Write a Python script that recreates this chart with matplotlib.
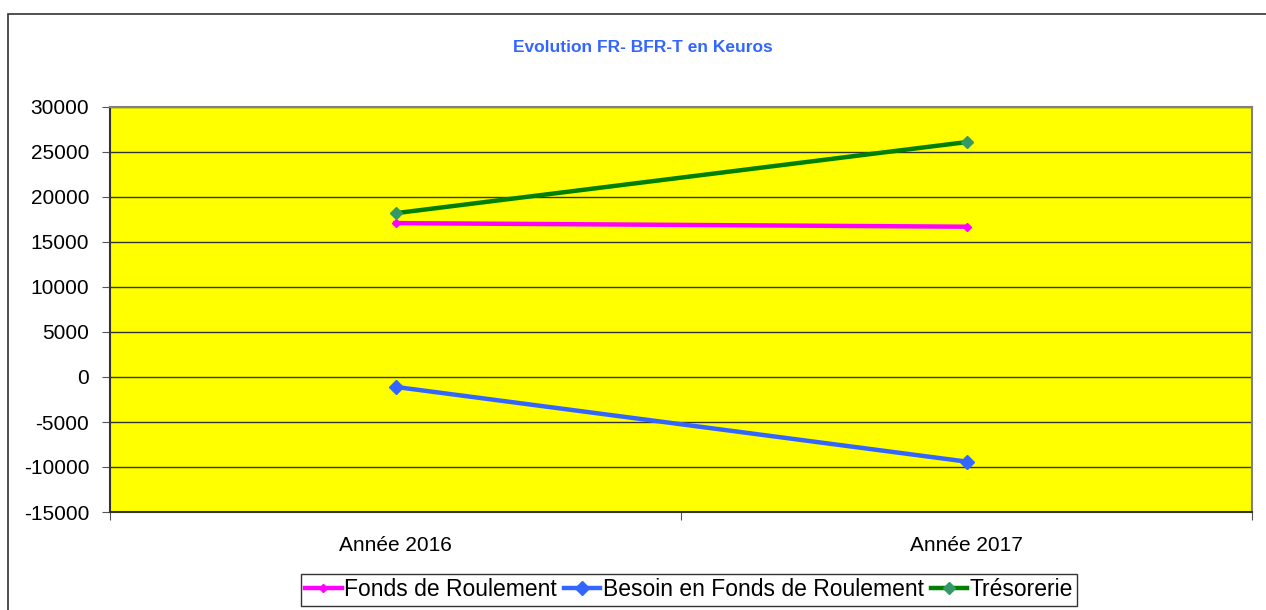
import matplotlib.pyplot as plt
from matplotlib.patches import Rectangle

W, H = 1266, 610

categories = ["Année 2016", "Année 2017"]
fonds_roulement = [17100, 16700]
besoin_fr = [-1100, -9400]
tresorerie = [18200, 26100]
yticks = list(range(-15000, 30001, 5000))

fig = plt.figure(figsize=(W / 100, H / 100), dpi=100)
fig.patch.set_facecolor("white")

# cadre extérieur du graphique
fig.patches.append(Rectangle((8 / W, -0.1), 1.2, 1 - 14 / H + 0.1,
                             transform=fig.transFigure, fill=False,
                             edgecolor="#333333", linewidth=1.2))

ax = fig.add_axes([110 / W, 1 - 512 / H, (1252 - 110) / W, (512 - 107) / H])
ax.set_facecolor("#FFFF00")

x = list(range(len(categories)))
ax.plot(x, fonds_roulement, color="#FF00FF", linewidth=3.2, marker="D",
        markersize=4, label="Fonds de Roulement")
ax.plot(x, besoin_fr, color="#3366FF", linewidth=3.2, marker="D",
        markersize=7, label="Besoin en Fonds de Roulement")
ax.plot(x, tresorerie, color="#008000", linewidth=3.2, marker="D",
        markersize=6, markerfacecolor="#339966", markeredgecolor="#339966",
        label="Trésorerie")

ax.set_xlim(-0.5, len(categories) - 0.5)
ax.set_ylim(-15000, 30000)
ax.set_yticks(yticks)
ax.set_yticklabels([str(v) for v in yticks], fontsize=15, family="Liberation Sans")
ax.set_xticks([i - 0.5 for i in range(len(categories) + 1)])
ax.set_xticklabels([])
ax.set_xticks(x, minor=True)
ax.set_xticklabels(categories, minor=True, fontsize=15, family="Liberation Sans")
ax.tick_params(axis="x", which="minor", length=0, pad=17)
ax.tick_params(axis="x", which="major", length=6, direction="out", color="#555555")
ax.tick_params(axis="y", length=6, direction="out", color="#555555", pad=9)
ax.grid(axis="y", color="#333333", linewidth=1.0)
ax.set_axisbelow(True)

for side in ["top", "right"]:
    ax.spines[side].set_color("#808080")
    ax.spines[side].set_linewidth(1.5)
for side in ["left", "bottom"]:
    ax.spines[side].set_color("#333333")
    ax.spines[side].set_linewidth(1.5)

fig.text(643 / W, 1 - 48 / H, "Evolution FR- BFR-T en Keuros", ha="center",
         va="center", color="#3366FF", fontsize=12.5, fontweight="bold",
         family="Liberation Sans")

leg = fig.legend(loc="center", bbox_to_anchor=(689 / W, 1 - 590 / H), ncol=3,
                 prop={"family": "Liberation Sans", "size": 16.5},
                 frameon=True, fancybox=False, handlelength=1.6,
                 handletextpad=0.1, columnspacing=0.3, borderpad=0.2,
                 borderaxespad=0)
leg.get_frame().set_edgecolor("#000000")
leg.get_frame().set_linewidth(1.0)

fig.savefig("out.png", dpi=100)
